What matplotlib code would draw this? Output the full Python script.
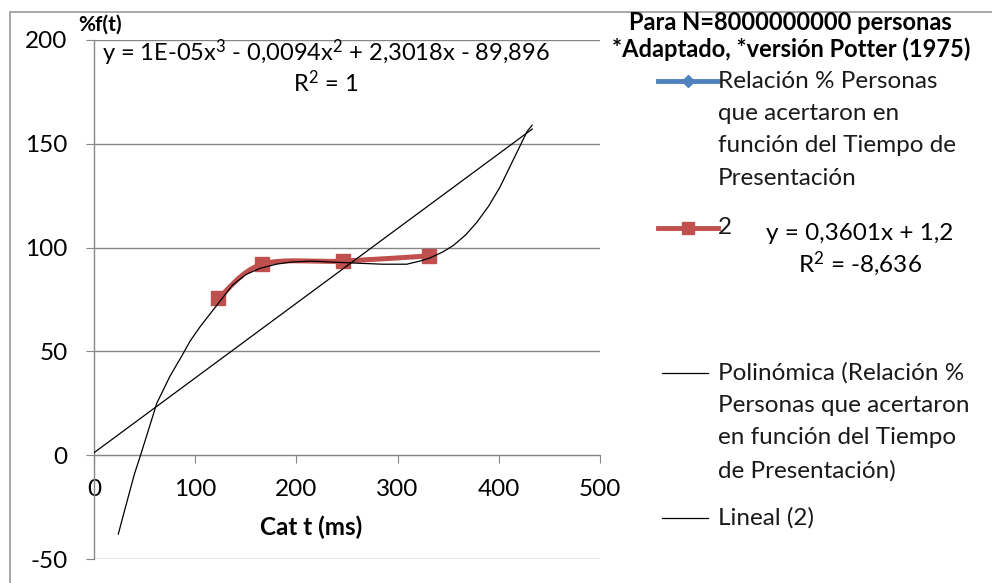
import matplotlib
matplotlib.use('Agg')
import matplotlib.pyplot as plt
from matplotlib.lines import Line2D
from matplotlib.path import Path
from matplotlib.patches import PathPatch, Rectangle
import numpy as np

plt.rcParams['font.family'] = ['Lato', 'DejaVu Sans']
plt.rcParams['mathtext.fontset'] = 'custom'
plt.rcParams['mathtext.rm'] = 'Lato'
plt.rcParams['mathtext.it'] = 'Lato'

# Series "2" (red) - measured points
t_red = [123, 166, 246, 331]
f_red = [75.5, 92.0, 93.5, 96.0]

# Polynomial trendline
t_poly = [24, 30, 35, 40, 46, 55, 62, 75, 87, 95, 105, 121, 137, 150, 164, 180,
          194, 215, 236, 260, 285, 309, 322, 332, 345, 355, 367, 378, 390, 401,
          414, 422, 428, 433]
f_poly = [-38, -27, -18, -9, 0, 14, 25, 38, 48, 55, 62, 72, 82, 87, 90, 92,
          93, 93.5, 93, 92.5, 92, 92, 93.5, 95, 98, 101, 106, 112, 120, 129,
          142, 150, 156, 159]

# Linear trendline of series 2
t_lin = [0, 433]
f_lin = [1.2, 157.1]

x_ticks = [0, 100, 200, 300, 400, 500]
y_ticks = [-50, 0, 50, 100, 150, 200]

RED = '#C0504D'
BLUE = '#4F81BD'
GRID = '#868686'
FS = 17.5

W, H = 992, 583
fig = plt.figure(figsize=(W / 100, H / 100), dpi=100)
ax = fig.add_axes([94 / W, 1 - 559 / H, (600 - 94) / W, (559 - 40) / H])

# outer chart border
fig.add_artist(Rectangle((10 / W, -0.05), 1.2, 1 - 12 / H + 0.05, transform=fig.transFigure,
                         fill=False, edgecolor='#9a9a9a', linewidth=1.2))


def smooth_path(xs, ys, tension=1 / 6):
    # Excel-like smoothed line: cubic Bezier segments through the points
    pts = np.column_stack([xs, ys]).astype(float)
    verts = [pts[0]]
    codes = [Path.MOVETO]
    n = len(pts)
    for i in range(n - 1):
        p0 = pts[i - 1] if i > 0 else pts[i]
        p1 = pts[i]
        p2 = pts[i + 1]
        p3 = pts[i + 2] if i + 2 < n else pts[i + 1]
        c1 = p1 + (p2 - p0) * tension
        c2 = p2 - (p3 - p1) * tension
        verts += [c1, c2, p2]
        codes += [Path.CURVE4] * 3
    return Path(verts, codes)


ax.add_patch(PathPatch(smooth_path(t_red, f_red), facecolor='none', edgecolor=RED,
                       linewidth=3.6, capstyle='round', zorder=3))
ax.plot(t_red, f_red, linestyle='none', marker='s', markersize=10, color=RED, zorder=4)
ax.plot(t_poly, f_poly, color='black', linewidth=0.9, zorder=5)
ax.plot(t_lin, f_lin, color='black', linewidth=0.9, zorder=5)

ax.set_xlim(0, 500)
ax.set_ylim(-50, 200)
ax.set_xticks(x_ticks)
ax.set_yticks(y_ticks)
ax.yaxis.grid(True, color=GRID, linewidth=1.0)
ax.set_axisbelow(True)
for s in ['top', 'right']:
    ax.spines[s].set_visible(False)
ax.spines['left'].set_color(GRID)
ax.spines['left'].set_linewidth(1.0)
ax.spines['bottom'].set_position(('data', 0))
ax.spines['bottom'].set_color(GRID)
ax.tick_params(axis='x', direction='out', length=6, color=GRID, labelsize=FS, pad=11)
ax.tick_params(axis='y', direction='out', length=6, color=GRID, labelsize=FS, pad=13)
ax.set_xticklabels([str(v) for v in x_ticks])
ax.set_yticklabels([str(v) for v in y_ticks])

fig.text(311 / W, 1 - 527 / H, 'Cat t (ms)', fontsize=FS, fontweight='bold',
         ha='center', va='center')
fig.text(78 / W, 1 - 25 / H, '%f(t)', fontsize=15, fontweight='bold',
         ha='left', va='center')

fig.text(326 / W, 1 - 53 / H, r'y = 1E-05x$^{3}$ - 0,0094x$^{2}$ + 2,3018x - 89,896',
         fontsize=17, ha='center', va='center')
fig.text(326 / W, 1 - 83 / H, r'R$^{2}$ = 1', fontsize=17, ha='center', va='center')

# legend drawn at the right side
fig.text(629 / W, 1 - 22 / H, 'Para N=8000000000 personas', fontsize=17,
         fontweight='bold', ha='left', va='center')
fig.text(612 / W, 1 - 49 / H, '*Adaptado, *versión Potter (1975)', fontsize=17,
         fontweight='bold', ha='left', va='center')

tx = 718 / W
lh = 32.5 / H
entries = [
    (81, BLUE, 'D', 3.5, ['Relación % Personas', 'que acertaron en',
                          'función del Tiempo de', 'Presentación']),
    (228, RED, 's', 3.5, ['2']),
    (373, 'black', None, 0.9, ['Polinómica (Relación %', 'Personas que acertaron',
                               'en función del Tiempo', 'de Presentación)']),
    (518, 'black', None, 0.9, ['Lineal (2)']),
]
for y0, col, mk, lw, lines in entries:
    yy = 1 - y0 / H
    if mk:
        fig.add_artist(Line2D([658 / W, 718 / W], [yy, yy], transform=fig.transFigure,
                              color=col, linewidth=lw))
        fig.add_artist(Line2D([688 / W], [yy], transform=fig.transFigure, color=col,
                              marker=mk, markersize=9 if mk == 's' else 6, linestyle='none'))
    else:
        fig.add_artist(Line2D([662 / W, 708 / W], [yy, yy], transform=fig.transFigure,
                              color=col, linewidth=lw))
    for k, s in enumerate(lines):
        fig.text(tx, yy - k * lh, s, fontsize=FS, ha='left', va='center', color='#1a1a1a')

fig.text(860 / W, 1 - 233 / H, 'y = 0,3601x + 1,2', fontsize=FS, ha='center', va='center')
fig.text(860 / W, 1 - 264 / H, r'R$^{2}$ = -8,636', fontsize=FS, ha='center', va='center')

fig.savefig('out.png', dpi=100)
